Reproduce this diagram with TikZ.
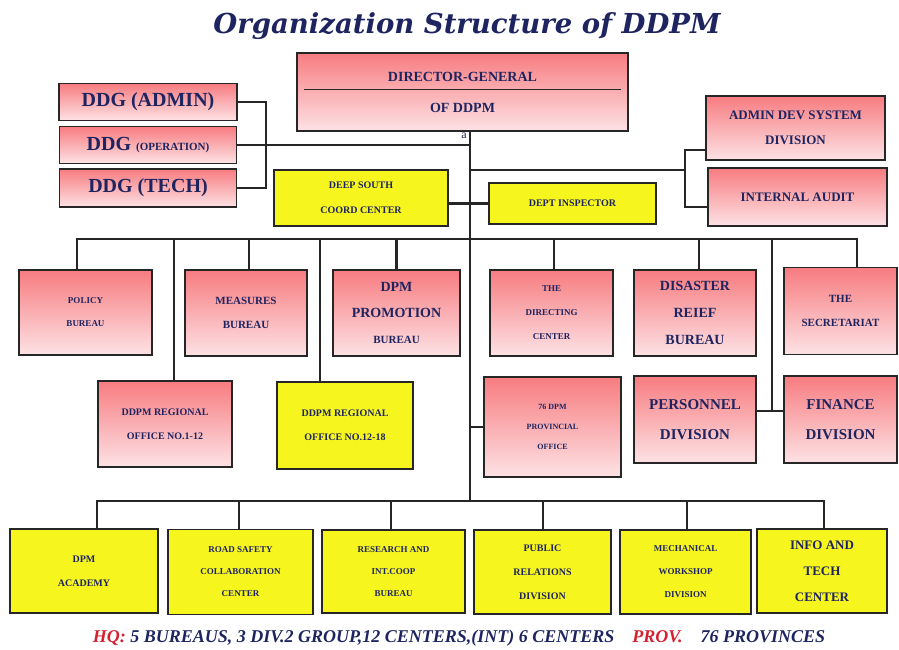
\documentclass[tikz,border=0pt]{standalone}
\usepackage{fontspec}
\setmainfont{Liberation Serif}
\newfontfamily\titlefont{DejaVu Serif}
\usetikzlibrary{positioning}
\definecolor{navytext}{HTML}{1E2460}
\definecolor{boxred}{HTML}{F77C80}
\definecolor{boxpale}{HTML}{FDE2E5}
\definecolor{boxyellow}{HTML}{F6F51E}
\definecolor{hqred}{HTML}{D42030}
\tikzset{
    %Define style for pink boxes
    pinknode/.style={
             rectangle,
             draw=black!85, line width=1.6pt,
             top color=boxred, bottom color=boxpale,
             text=navytext, align=center},
    %Define style for yellow boxes
    yellownode/.style={
             rectangle,
             draw=black!85, line width=1.6pt,
             fill=boxyellow,
             text=navytext, align=center},
    % font size and line spacing of a box
    fsz/.style 2 args={font=\bfseries\fontsize{#1}{#2}\selectfont},
    % Define line style
    orgline/.style={
            line width=2.4pt,
            black!85}
}

\begin{document}
\begin{tikzpicture}[x=1pt, y=-1pt]
    \useasboundingbox (0,0) rectangle (899,650);
    \node[text=navytext, font=\titlefont\bfseries\itshape\fontsize{27.5}{32}\selectfont] (title) at (467,26) {Organization Structure of DDPM};
    % top level
    \node[pinknode, fsz={14}{31}, minimum width=331pt, minimum height=78pt] (dg) at (462.5,92) {DIRECTOR-GENERAL\\OF DDPM};
    \node[text=navytext, font=\fontsize{12}{12}\selectfont, inner sep=0pt] (amark) at (464,136) {a};
    \node[pinknode, fsz={20}{24}, minimum width=178pt, minimum height=37pt] (ddgadmin) at (148,102) {DDG (ADMIN)};
    \node[pinknode, fsz={20}{24}, minimum width=177pt, minimum height=37pt] (ddgop) at (148,145) {DDG {\fontsize{11}{12}\selectfont(OPERATION)}};
    \node[pinknode, fsz={20}{24}, minimum width=177pt, minimum height=38pt] (ddgtech) at (148,188) {DDG (TECH)};
    \node[pinknode, fsz={13}{25}, minimum width=179pt, minimum height=64pt] (admindev) at (795.5,128) {ADMIN DEV SYSTEM\\DIVISION};
    \node[pinknode, fsz={13}{25}, minimum width=179pt, minimum height=58pt] (audit) at (797.5,197) {INTERNAL AUDIT};
    \node[yellownode, fsz={10}{25}, minimum width=174pt, minimum height=56pt] (deepsouth) at (361,198) {DEEP SOUTH\\COORD CENTER};
    \node[yellownode, fsz={10}{12}, minimum width=167pt, minimum height=41pt] (inspector) at (572.5,203.5) {DEPT INSPECTOR};
    % bureaus row
    \node[pinknode, fsz={9}{23}, minimum width=133pt, minimum height=85pt] (policy) at (85.5,312.5) {POLICY\\BUREAU};
    \node[pinknode, fsz={11}{24}, minimum width=122pt, minimum height=86pt] (measures) at (246,313) {MEASURES\\BUREAU};
    \node[pinknode, fsz={14}{26}, minimum width=127pt, minimum height=86pt] (promotion) at (396.5,313) {DPM\\PROMOTION\\{\fontsize{11}{12}\selectfont BUREAU}};
    \node[pinknode, fsz={9}{24}, minimum width=123pt, minimum height=86pt] (directing) at (551.5,313) {THE\\DIRECTING\\CENTER};
    \node[pinknode, fsz={14}{27}, minimum width=122pt, minimum height=86pt] (disaster) at (695,313) {DISASTER\\REIEF\\BUREAU};
    \node[pinknode, fsz={11}{24}, minimum width=113pt, minimum height=87pt] (secretariat) at (840.5,311) {THE\\SECRETARIAT};
    % offices row
    \node[pinknode, fsz={10}{24}, minimum width=134pt, minimum height=86pt] (regional1) at (165,424) {DDPM REGIONAL\\OFFICE NO.1-12};
    \node[yellownode, fsz={10}{24}, minimum width=136pt, minimum height=87pt] (regional2) at (345,425.5) {DDPM REGIONAL\\OFFICE NO.12-18};
    \node[pinknode, fsz={8}{20}, minimum width=137pt, minimum height=100pt] (provincial) at (552.5,427) {76 DPM\\PROVINCIAL\\OFFICE};
    \node[pinknode, fsz={15}{30}, minimum width=122pt, minimum height=87pt] (personnel) at (695,419.5) {PERSONNEL\\DIVISION};
    \node[pinknode, fsz={15}{30}, minimum width=113pt, minimum height=87pt] (finance) at (840.5,419.5) {FINANCE\\DIVISION};
    % bottom row
    \node[yellownode, fsz={10}{24}, minimum width=148pt, minimum height=84pt] (academy) at (84,571) {DPM\\ACADEMY};
    \node[yellownode, fsz={9}{22}, minimum width=145pt, minimum height=85pt] (roadsafety) at (240.5,572) {ROAD SAFETY\\COLLABORATION\\CENTER};
    \node[yellownode, fsz={9}{22}, minimum width=143pt, minimum height=83pt] (research) at (393.5,571.5) {RESEARCH AND\\INT.COOP\\BUREAU};
    \node[yellownode, fsz={10}{24}, minimum width=137pt, minimum height=84pt] (public) at (542.5,572) {PUBLIC\\RELATIONS\\DIVISION};
    \node[yellownode, fsz={9}{23}, minimum width=131pt, minimum height=84pt] (mechanical) at (685.5,572) {MECHANICAL\\WORKSHOP\\DIVISION};
    \node[yellownode, fsz={13}{26}, minimum width=130pt, minimum height=84pt] (infotech) at (822,571) {INFO AND\\TECH\\CENTER};
    \node[text=navytext, font=\bfseries\itshape\fontsize{18}{20}\selectfont] (footer) at (459,638) {{\color{hqred}HQ:} 5 BUREAUS, 3 DIV.2 GROUP,12 CENTERS,(INT) 6 CENTERS\quad{\color{hqred}PROV.}\quad 76 PROVINCES};
    % junction points
    \coordinate (trunktop) at ([xshift=7.5pt]dg.south);
    \coordinate (trunkbot) at (470,501);
    \coordinate (bus1) at (470,239);
    \coordinate (rj) at (685,170);
    \coordinate (pfj) at (772,411);
    % connectors
    \draw[line width=0.8pt, black!85] ([xshift=8pt,yshift=3pt]dg.west) -- ([xshift=-8pt,yshift=3pt]dg.east);
    \draw[orgline] (trunktop) -- (trunkbot);
    \draw[orgline] (ddgadmin.east) -- ++(28,0) |- (ddgtech.east);
    \draw[orgline] (ddgop.east) -- (ddgop.east -| trunktop);
    \draw[orgline] (rj -| trunktop) -- (rj);
    \draw[orgline] ([yshift=-22pt]admindev.west) -| (rj) |- ([yshift=-10pt]audit.west);
    \draw[orgline] (deepsouth.east |- inspector.west) -- (inspector.west);
    \foreach \b/\s in {policy/-8.5, measures/3, promotion/0, directing/2.5, disaster/4, secretariat/16.5, regional1/9, regional2/-25}
        \draw[orgline] (bus1) -| ([xshift=\s pt]\b.north);
    \draw[orgline] (bus1) -| (pfj);
    \draw[orgline] ([yshift=8.5pt]personnel.east) -- ([yshift=8.5pt]finance.west);
    \draw[orgline] (provincial.west) -- (provincial.west -| trunktop);
    \foreach \b/\s in {academy/13, roadsafety/-1.5, research/-2.5, public/0.5, mechanical/1.5, infotech/2}
        \draw[orgline] (trunkbot) -| ([xshift=\s pt]\b.north);
\end{tikzpicture}
\end{document}
